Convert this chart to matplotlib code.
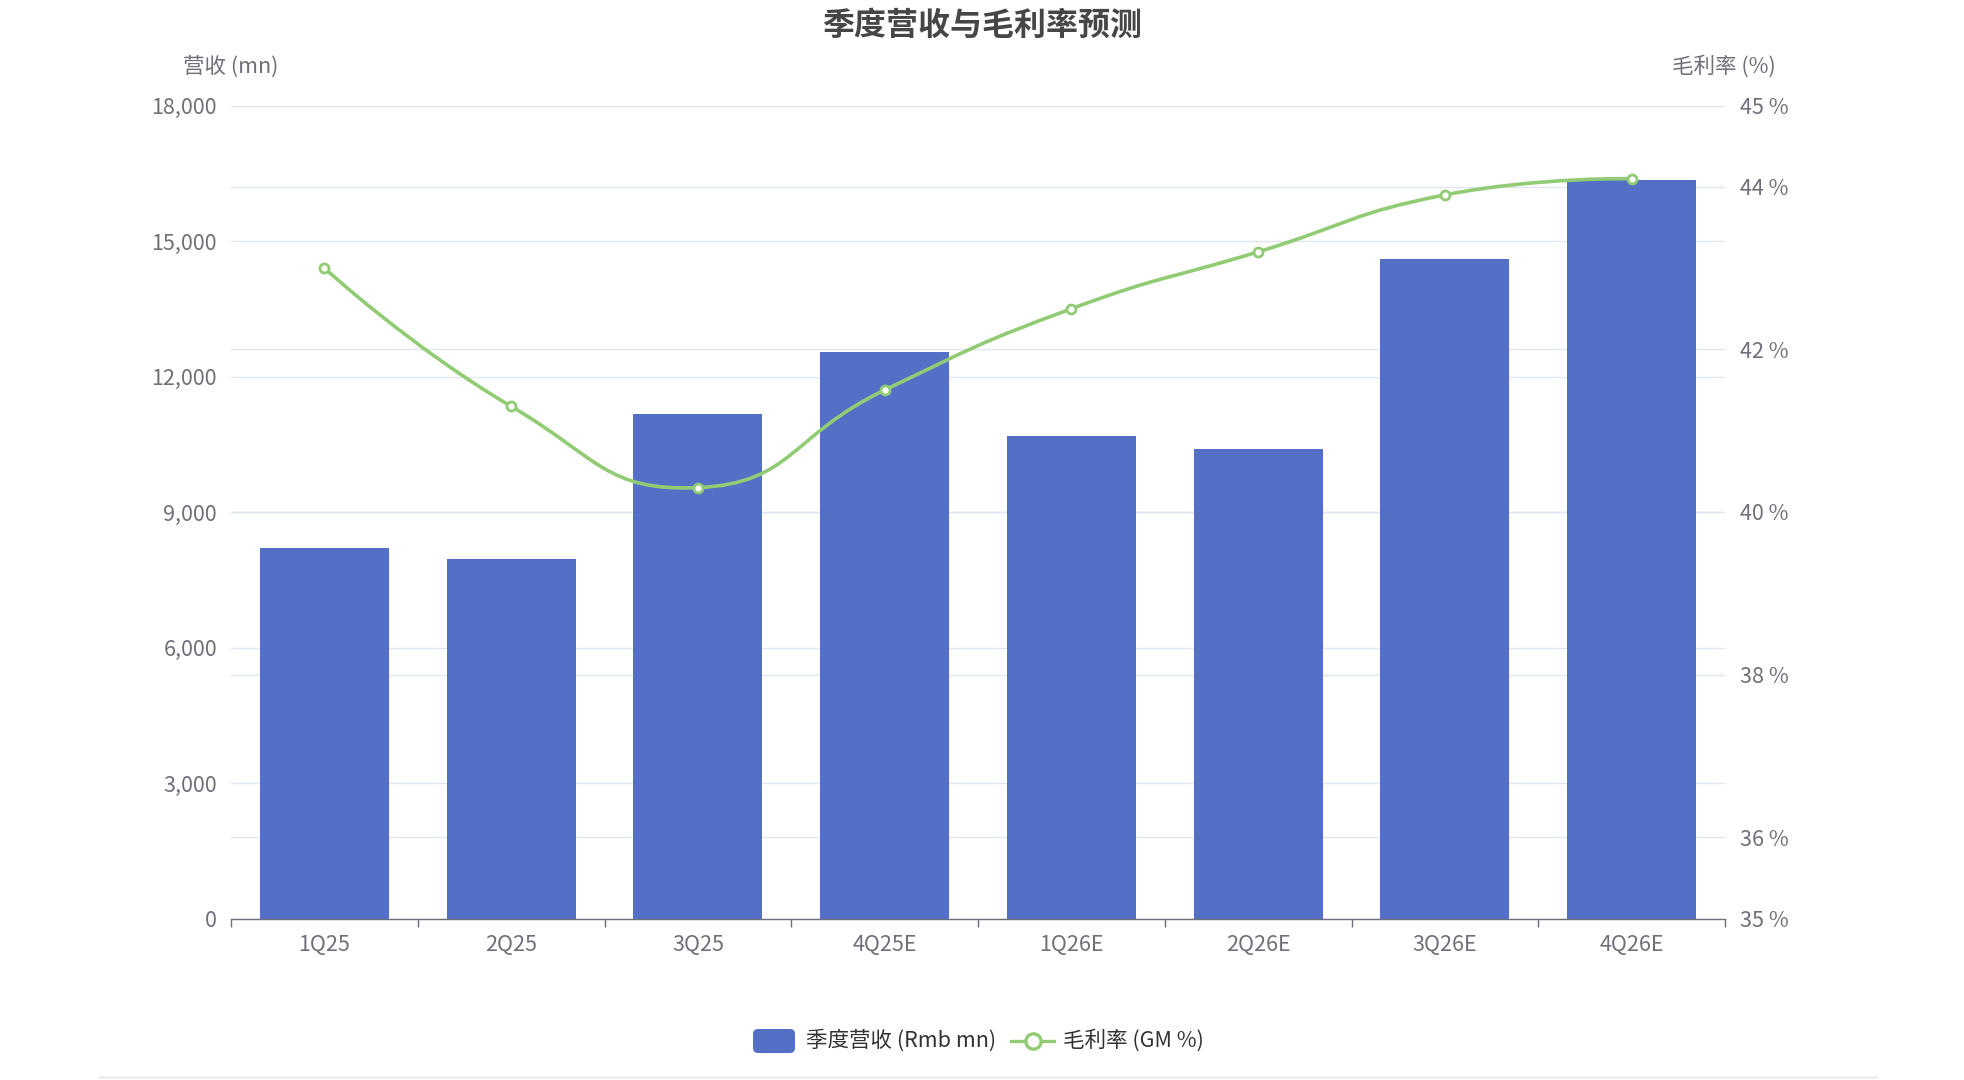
import matplotlib.pyplot as plt
import matplotlib.transforms as mtransforms
from matplotlib.path import Path
from matplotlib.patches import PathPatch, FancyBboxPatch
from matplotlib.lines import Line2D
from matplotlib.ticker import FuncFormatter
import numpy as np

plt.rcParams['font.family'] = ['Noto Sans CJK SC', 'DejaVu Sans']

# data
quarters = ['1Q25', '2Q25', '3Q25', '4Q25E', '1Q26E', '2Q26E', '3Q26E', '4Q26E']
revenue = [8200, 7950, 11170, 12550, 10680, 10400, 14600, 16350]
gross_margin = [43.0, 41.3, 40.3, 41.5, 42.5, 43.2, 43.9, 44.1]
rev_ticks = [0, 3000, 6000, 9000, 12000, 15000, 18000]
gm_ticks = [35, 36, 38, 40, 42, 44, 45]

title = '季度营收与毛利率预测'
rev_name = '营收 (mn)'
gm_name = '毛利率 (%)'
rev_label = '季度营收 (Rmb mn)'
gm_label = '毛利率 (GM %)'

BLUE = '#5470C6'
GREEN = '#91CC75'
AXIS = '#6E7079'
GRID = '#E0E6F1'
W, H = 1964, 1080


def smooth_path(axis, xs, ys, s=0.5):
    # echarts-style bezier smoothing, done in pixel space
    pts = axis.transData.transform(np.column_stack([xs, ys]))
    verts = [pts[0]]
    codes = [Path.MOVETO]
    cp0 = pts[0]
    n = len(pts)
    for i in range(1, n):
        p = pts[i]
        if i == n - 1:
            ncp = p
            v = np.zeros(2)
            r = 0.5
        else:
            prev, nxt = pts[i - 1], pts[i + 1]
            v = nxt - prev
            l0 = np.hypot(*(p - prev))
            l1 = np.hypot(*(nxt - p))
            r = l1 / (l0 + l1)
            ncp = p - v * s * (1 - r)
        verts += [cp0, ncp, p]
        codes += [Path.CURVE4] * 3
        cp0 = p + v * s * r
    return Path(axis.transData.inverted().transform(np.array(verts)), codes)


fig = plt.figure(figsize=(W / 100, H / 100), dpi=100)
ax = fig.add_axes([231 / W, 1 - 918.5 / H, (1725 - 231) / W, 813 / H])
ax2 = ax.twinx()

x = np.arange(len(quarters))
ax.bar(x, revenue, width=0.69, color=BLUE, zorder=2)
ax.set_xlim(-0.5, len(quarters) - 0.5)
ax.set_ylim(0, 18000)
ax2.set_ylim(35, 45)

# grid lines of both axes, under the bars
ax.set_yticks(rev_ticks)
ax.yaxis.grid(True, color=GRID, linewidth=1.0, zorder=0)
ax.set_axisbelow(True)
blend = mtransforms.blended_transform_factory(ax.transAxes, ax2.transData)
for t in gm_ticks[1:-1]:
    ax.plot([0, 1], [t, t], transform=blend, color=GRID, linewidth=1.0, zorder=0.6)

ax.yaxis.set_major_formatter(FuncFormatter(lambda v, p: f'{int(v):,}'))
ax.tick_params(axis='y', length=0, pad=10, labelsize=15.5, labelcolor=AXIS)

ax2.set_yticks(gm_ticks)
ax2.yaxis.set_major_formatter(FuncFormatter(lambda v, p: f'{int(v)} %'))
ax2.tick_params(axis='y', length=0, pad=11, labelsize=15.5, labelcolor=AXIS)

# category axis: ticks on boundaries, labels at centres
ax.set_xticks(np.arange(-0.5, len(quarters), 1))
ax.set_xticklabels([])
ax.set_xticks(x, minor=True)
ax.set_xticklabels(quarters, minor=True)
ax.tick_params(axis='x', which='major', length=6, width=1.0, color=AXIS)
ax.tick_params(axis='x', which='minor', length=0, pad=11, labelsize=15.5, labelcolor=AXIS)

for a in (ax, ax2):
    for side in ('top', 'left', 'right'):
        a.spines[side].set_visible(False)
ax2.spines['bottom'].set_visible(False)
ax.spines['bottom'].set_color(AXIS)
ax.spines['bottom'].set_linewidth(1.0)

# smooth margin line
line_path = smooth_path(ax2, x, gross_margin)
ax2.add_patch(PathPatch(line_path, facecolor='none', edgecolor=GREEN, linewidth=2.6, zorder=3))
ax2.plot(x, gross_margin, linestyle='none', marker='o', markersize=6.5,
         markerfacecolor='white', markeredgecolor=GREEN, markeredgewidth=2.0, zorder=4)

# titles
fig.text(0.5, 1 - 26 / H, title, ha='center', va='center', fontsize=23,
         fontweight='bold', color='#464646')
fig.text(231 / W, 1 - 67 / H, rev_name, ha='center', va='center', fontsize=15.5, color=AXIS)
fig.text(1724 / W, 1 - 67 / H, gm_name, ha='center', va='center', fontsize=15.5, color=AXIS)

# legend
ident = mtransforms.IdentityTransform()
fig.add_artist(FancyBboxPatch((753, 27), 42, 24, boxstyle='round,pad=0,rounding_size=5',
                              facecolor=BLUE, edgecolor='none', transform=ident))
fig.text(806 / W, 39 / H, rev_label, ha='left', va='center', fontsize=15.5, color='#333333')
fig.add_artist(Line2D([1011, 1054], [39, 39], color=GREEN, linewidth=2.4, transform=ident))
fig.add_artist(Line2D([1032.5], [39], marker='o', markersize=11, markerfacecolor='white',
                      markeredgecolor=GREEN, markeredgewidth=2.4, transform=ident))
fig.text(1063 / W, 39 / H, gm_label, ha='left', va='center', fontsize=15.5, color='#333333')

fig.add_artist(Line2D([100 / W, 1876 / W], [3 / H, 3 / H], color='#EEEEEE', linewidth=2,
                      transform=fig.transFigure))

fig.savefig('out.png', dpi=100)
